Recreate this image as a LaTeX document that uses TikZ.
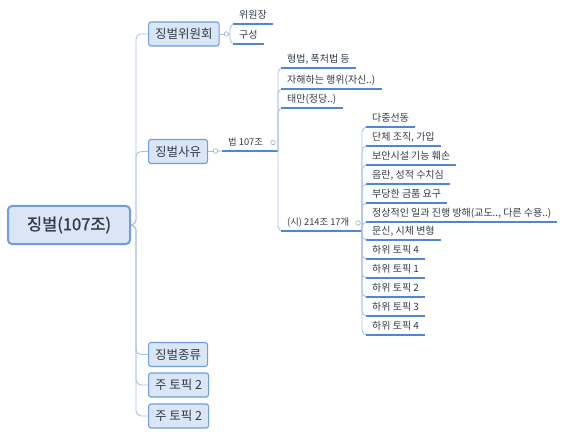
\documentclass[tikz,border=0pt]{standalone}
\usepackage{fontspec}
\setmainfont{Noto Sans CJK KR}
\newfontfamily\rootfont[FakeBold=1.2]{Noto Sans CJK KR}
\definecolor{boxf}{HTML}{DAE5F5}
\definecolor{boxb}{HTML}{6F9DE0}
\definecolor{ulc}{HTML}{4F86D6}
\definecolor{connc}{HTML}{A8C3E8}
\definecolor{knobc}{HTML}{9DB0C8}
\definecolor{txt}{HTML}{333B47}
\begin{document}
\begin{tikzpicture}[x=1pt,y=-1pt,
  every node/.style={text=txt},
  rootbox/.style={draw=boxb, line width=2pt, fill=boxf, rounded corners=4pt, minimum width=122pt, minimum height=38pt, font=\rootfont\fontsize{16.5}{19}\selectfont, inner sep=0pt},
  mtopic/.style={draw=boxb, line width=1.1pt, fill=boxf, rounded corners=2.5pt, minimum height=24pt, inner xsep=6.5pt, inner ysep=0pt, anchor=west, font=\fontsize{12.5}{14}\selectfont},
  sub/.style={anchor=south west, inner xsep=6pt, inner ysep=3pt, text height=7.5pt, text depth=2pt, font=\fontsize{10}{12}\selectfont},
  subn/.style={sub, font=\fontsize{9.3}{11}\selectfont},
  uline/.style={draw=ulc, line width=1.3pt},
  conn/.style={draw=connc, line width=0.9pt, rounded corners=5pt},
  knob/.style={circle, draw=knobc, fill=white, line width=0.6pt, minimum size=4.5pt, inner sep=0pt}
]
\useasboundingbox (0,0) rectangle (566,436);
% root and main topics
\node[rootbox] (root) at (69,225) {징벌(107조)};
\node[mtopic] (m1) at (148,34) {징벌위원회};
\node[mtopic] (m2) at (148,151.5) {징벌사유};
\node[mtopic] (m3) at (148,354.5) {징벌종류};
\node[mtopic] (m4) at (148,385) {주 토픽 2};
\node[mtopic] (m5) at (148,416) {주 토픽 2};
\coordinate (t0) at (136,225);
\foreach \m in {m1,m2,m3,m4,m5}{
  \draw[conn] (root.east) -- (t0) |- (\m.west);
}
% 징벌위원회 children
\coordinate (j1) at (230,34);
\node[sub] (a1) at (233,24) {위원장};
\node[sub] (a2) at (233,44) {구성};
\draw[conn] (m1.east) -- (j1);
\foreach \c in {a1,a2}{
  \draw[conn] (j1) |- (\c.south west);
  \draw[uline] (\c.south west) -- (\c.south east);
}
\node[knob] (k1) at (226.5,34) {};
% 징벌사유 -> 법 107조
\node[subn] (b) at (222,151) {법 107조};
\coordinate (j2) at (278,151);
\draw[conn] (m2.east) -- (b.south west);
\draw[uline] (b.south west) -- (j2);
\node[knob] (k2) at (215.5,151) {};
\node[knob] (k3) at (273,142.5) {};
% 법 107조 children
\node[sub] (c1) at (281,68) {형법, 폭처법 등};
\node[sub] (c2) at (281,89) {자해하는 행위(자신..)};
\node[sub] (c3) at (281,108) {태만(정당..)};
\node[subn] (c4) at (281,231) {(시) 214조 17개};
\coordinate (j3) at (362,231);
\foreach \c in {c1,c2,c3}{
  \draw[conn] (j2) |- (\c.south west);
  \draw[uline] (\c.south west) -- (\c.south east);
}
\draw[conn] (j2) |- (c4.south west);
\draw[uline] (c4.south west) -- (j3);
\node[knob] (k4) at (358,223) {};
% 214조 children
\node[sub] (d1) at (366,127) {다중선동};
\node[sub] (d2) at (366,146) {단체 조직, 가입};
\node[sub] (d3) at (366,165) {보안시설 기능 훼손};
\node[sub] (d4) at (366,184) {음란, 성적 수치심};
\node[sub] (d5) at (366,203) {부당한 금품 요구};
\node[sub] (d6) at (366,222) {정상적인 일과 진행 방해(교도.., 다른 수용..)};
\node[sub] (d7) at (366,240) {문신, 시체 변형};
\node[sub] (d8) at (366,259) {하위 토픽 4};
\node[sub] (d9) at (366,278) {하위 토픽 1};
\node[sub] (d10) at (366,297) {하위 토픽 2};
\node[sub] (d11) at (366,316) {하위 토픽 3};
\node[sub] (d12) at (366,335) {하위 토픽 4};
\foreach \c in {d1,d2,d3,d4,d5,d6,d7,d8,d9,d10,d11,d12}{
  \draw[conn] (j3) |- (\c.south west);
  \draw[uline] (\c.south west) -- (\c.south east);
}
\end{tikzpicture}
\end{document}
